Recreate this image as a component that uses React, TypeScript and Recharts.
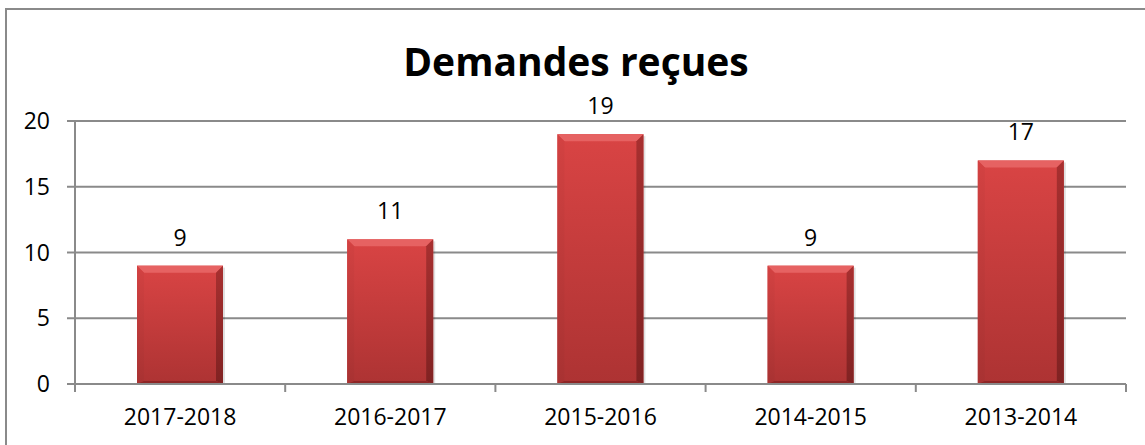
import { BarChart, Bar, XAxis, YAxis, CartesianGrid, LabelList } from 'recharts';

const categories = ['2017-2018', '2016-2017', '2015-2016', '2014-2015', '2013-2014'];
const demandes = [9, 11, 19, 9, 17];
const yTicks = [0, 5, 10, 15, 20];

const data = categories.map((name, i) => ({ name, value: demandes[i] }));

const W = 1145;
const H = 445;
const margin = { top: 121, right: 19, left: 15, bottom: 16 };
const yAxisWidth = 60;
const halfBand = (W - margin.left - margin.right - yAxisWidth) / categories.length / 2;
const grey = '#8a8a8a';
const font = '"Open Sans", sans-serif';

function XTick(props: any) {
  const { x, y, payload, index } = props;
  const last = index === categories.length - 1;
  return (
    <g>
      <line x1={x - halfBand} y1={y} x2={x - halfBand} y2={y + 8} stroke={grey} strokeWidth={2} />
      {last && <line x1={x + halfBand} y1={y} x2={x + halfBand} y2={y + 8} stroke={grey} strokeWidth={2} />}
      <text x={x} y={y + 41} textAnchor="middle" fill="#000" fontSize={23} fontFamily={font}>
        {payload.value}
      </text>
    </g>
  );
}

function BevelBar(props: any) {
  const { x, y, width, height } = props;
  if (!height || height <= 0) return null;
  const b = 7;
  return (
    <g>
      <rect x={x + 2} y={y + 2} width={width} height={height - 2} fill="rgba(0,0,0,0.12)" />
      <rect x={x} y={y} width={width} height={height} fill="url(#barBody)" />
      <polygon points={`${x},${y} ${x + width},${y} ${x + width - b},${y + b} ${x + b},${y + b}`} fill="#e66262" />
      <polygon points={`${x},${y} ${x + b},${y + b} ${x + b},${y + height - 3} ${x},${y + height}`} fill="url(#barLeft)" />
      <polygon points={`${x + width},${y} ${x + width - b},${y + b} ${x + width - b},${y + height - 3} ${x + width},${y + height}`} fill="url(#barRight)" />
      <polygon points={`${x},${y + height} ${x + b},${y + height - 3} ${x + width - b},${y + height - 3} ${x + width},${y + height}`} fill="#8e2626" />
    </g>
  );
}

export default function App() {
  return (
    <div style={{ position: 'relative', width: W, height: H, overflow: 'hidden', background: '#fff' }}>
      <style>{'body{margin:0}'}</style>
      <div
        style={{
          position: 'absolute',
          left: 5,
          top: 8,
          width: W,
          height: H,
          borderTop: `2px solid ${grey}`,
          borderLeft: `2px solid ${grey}`,
          boxSizing: 'border-box',
        }}
      />
      <div
        style={{
          position: 'absolute',
          left: 0,
          width: 1152,
          top: 35,
          textAlign: 'center',
          fontFamily: font,
          fontWeight: 'bold',
          fontSize: 39,
          lineHeight: '52px',
          color: '#000',
        }}
      >
        Demandes reçues
      </div>
      <div style={{ position: 'absolute', left: 0, top: 0 }}>
        <BarChart width={W} height={H} data={data} margin={margin} barCategoryGap="29.5%">
          <defs>
            <linearGradient id="barBody" x1="0" y1="0" x2="0" y2="1">
              <stop offset="0%" stopColor="#d94444" />
              <stop offset="100%" stopColor="#ad3333" />
            </linearGradient>
            <linearGradient id="barLeft" x1="0" y1="0" x2="0" y2="1">
              <stop offset="0%" stopColor="#d34242" />
              <stop offset="100%" stopColor="#a83232" />
            </linearGradient>
            <linearGradient id="barRight" x1="0" y1="0" x2="0" y2="1">
              <stop offset="0%" stopColor="#a83030" />
              <stop offset="100%" stopColor="#802222" />
            </linearGradient>
          </defs>
          <CartesianGrid vertical={false} stroke={grey} strokeWidth={2} />
          <XAxis
            dataKey="name"
            axisLine={{ stroke: grey, strokeWidth: 2 }}
            tickLine={false}
            tickSize={0}
            tickMargin={0}
            height={45}
            tick={<XTick />}
            interval={0}
          />
          <YAxis
            domain={[0, 20]}
            ticks={yTicks}
            width={yAxisWidth}
            axisLine={{ stroke: grey, strokeWidth: 2 }}
            tickLine={{ stroke: grey, strokeWidth: 2 }}
            tickSize={8}
            tickMargin={17}
            tick={{ fill: '#000', fontSize: 23, fontFamily: font }}
          />
          <Bar dataKey="value" shape={<BevelBar />} isAnimationActive={false}>
            <LabelList dataKey="value" position="top" offset={20} fill="#000" fontSize={23} fontFamily={font} />
          </Bar>
        </BarChart>
      </div>
    </div>
  );
}
